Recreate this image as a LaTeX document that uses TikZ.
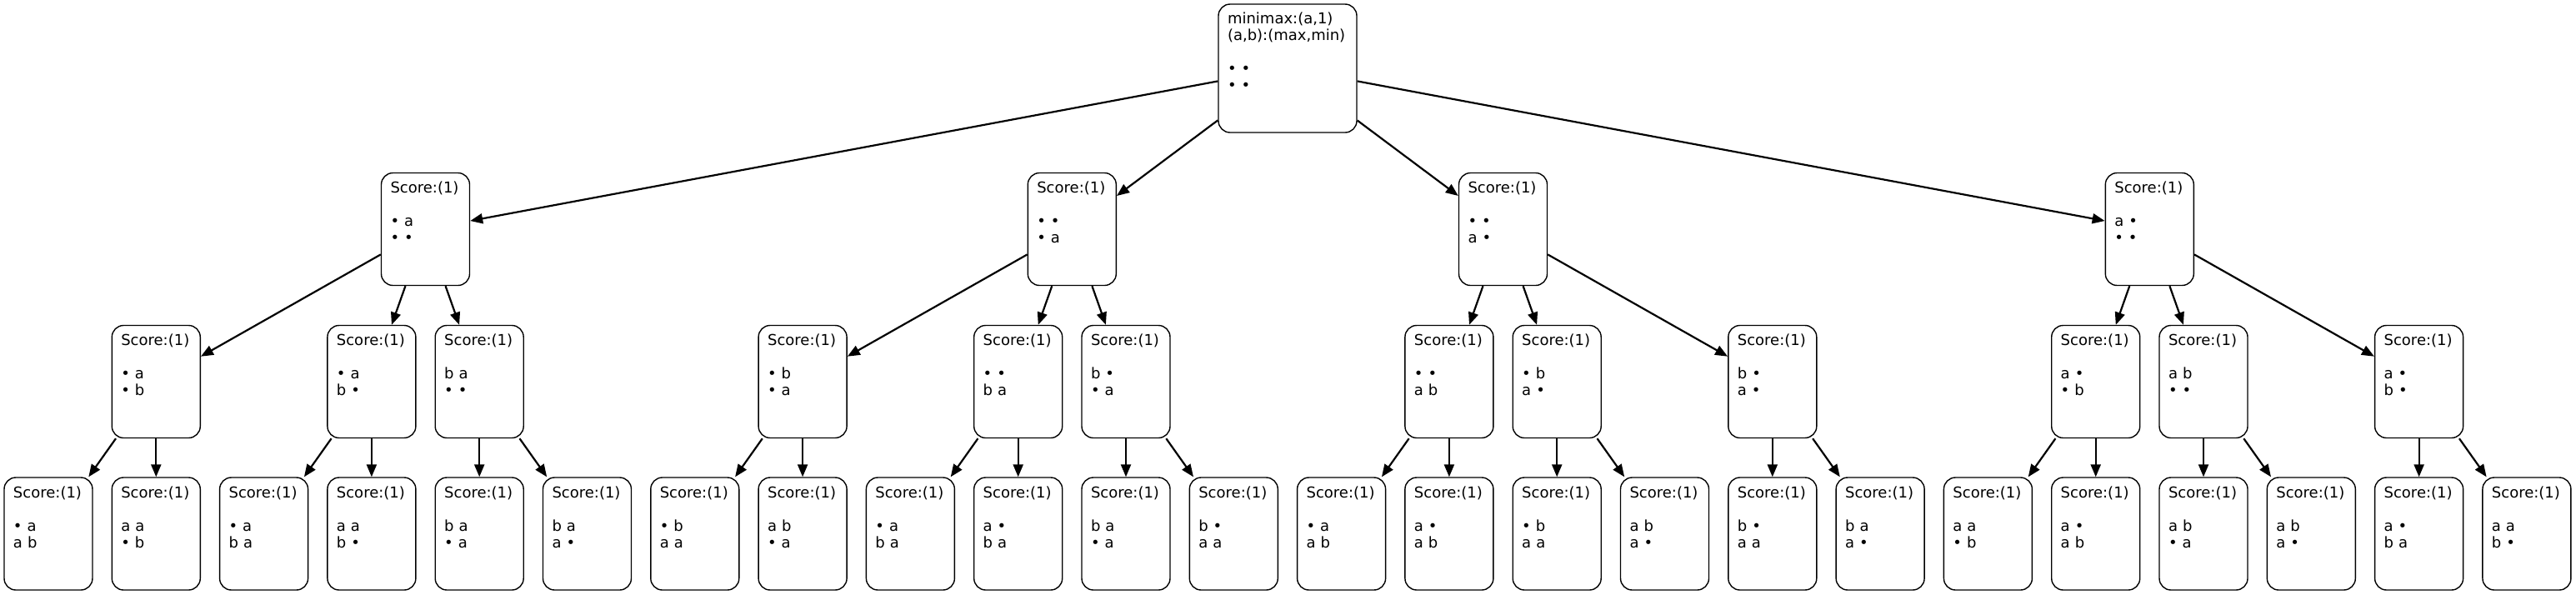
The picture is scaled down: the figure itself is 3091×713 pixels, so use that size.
\documentclass[tikz,border=0pt]{standalone}
\usepackage{fontspec}
\setmainfont{DejaVu Sans}
\usetikzlibrary{arrows.meta}
\newcommand{\board}[2]{Score:(1)\\\mbox{}\\#1\\#2\\\mbox{}\\\mbox{}}

\begin{document}
\begin{tikzpicture}[x=1pt,y=1pt,->,>={Triangle[length=15pt,width=12pt]},line width=2.2pt,
    font=\fontsize{18}{20}\selectfont,
    state/.style={draw,line width=1.4pt,rounded corners=14pt,align=left,text width=84pt,
        inner xsep=11pt,inner ysep=6pt,minimum height=135pt}]
                    \path[use as bounding box] (0,0) rectangle (3091,-713);
                    % root
                    \node[state,text width=144pt,minimum height=154pt] (0) at (1545,-82)
                        {minimax:(a,1)\\(a,b):(max,min)\\\mbox{}\\• •\\• •\\\mbox{}\\\mbox{}};
                    % max moves
                    \node[state] (1) at (510.5,-275) {\board{• a}{• •}};
                    \node[state] (2) at (1286.3,-275) {\board{• •}{• a}};
                    \node[state] (3) at (1803.5,-275) {\board{• •}{a •}};
                    \node[state] (4) at (2579.3,-275) {\board{a •}{• •}};
                    % min moves
                    \node[state] (5) at (187.3,-458) {\board{• a}{• b}};
                    \node[state] (6) at (445.9,-458) {\board{• a}{b •}};
                    \node[state] (7) at (575.2,-458) {\board{b a}{• •}};
                    \node[state] (8) at (963.1,-458) {\board{• b}{• a}};
                    \node[state] (9) at (1221.7,-458) {\board{• •}{b a}};
                    \node[state] (10) at (1351,-458) {\board{b •}{• a}};
                    \node[state] (11) at (1738.9,-458) {\board{• •}{a b}};
                    \node[state] (12) at (1868.2,-458) {\board{• b}{a •}};
                    \node[state] (13) at (2126.8,-458) {\board{b •}{a •}};
                    \node[state] (14) at (2514.7,-458) {\board{a •}{• b}};
                    \node[state] (15) at (2644,-458) {\board{a b}{• •}};
                    \node[state] (16) at (2902.6,-458) {\board{a •}{b •}};
                    % leaves
                    \node[state] (17) at (58,-640.5) {\board{• a}{a b}};
                    \node[state] (18) at (187.3,-640.5) {\board{a a}{• b}};
                    \node[state] (19) at (316.6,-640.5) {\board{• a}{b a}};
                    \node[state] (20) at (445.9,-640.5) {\board{a a}{b •}};
                    \node[state] (21) at (575.2,-640.5) {\board{b a}{• a}};
                    \node[state] (22) at (704.5,-640.5) {\board{b a}{a •}};
                    \node[state] (23) at (833.8,-640.5) {\board{• b}{a a}};
                    \node[state] (24) at (963.1,-640.5) {\board{a b}{• a}};
                    \node[state] (25) at (1092.4,-640.5) {\board{• a}{b a}};
                    \node[state] (26) at (1221.7,-640.5) {\board{a •}{b a}};
                    \node[state] (27) at (1351,-640.5) {\board{b a}{• a}};
                    \node[state] (28) at (1480.3,-640.5) {\board{b •}{a a}};
                    \node[state] (29) at (1609.6,-640.5) {\board{• a}{a b}};
                    \node[state] (30) at (1738.9,-640.5) {\board{a •}{a b}};
                    \node[state] (31) at (1868.2,-640.5) {\board{• b}{a a}};
                    \node[state] (32) at (1997.5,-640.5) {\board{a b}{a •}};
                    \node[state] (33) at (2126.8,-640.5) {\board{b •}{a a}};
                    \node[state] (34) at (2256.1,-640.5) {\board{b a}{a •}};
                    \node[state] (35) at (2385.4,-640.5) {\board{a a}{• b}};
                    \node[state] (36) at (2514.7,-640.5) {\board{a •}{a b}};
                    \node[state] (37) at (2644,-640.5) {\board{a b}{• a}};
                    \node[state] (38) at (2773.3,-640.5) {\board{a b}{a •}};
                    \node[state] (39) at (2902.6,-640.5) {\board{a •}{b a}};
                    \node[state] (40) at (3031.9,-640.5) {\board{a a}{b •}};
                    \path
                    (0) edge (1) edge (2) edge (3) edge (4)
                    (1) edge (5) edge (6) edge (7)
                    (2) edge (8) edge (9) edge (10)
                    (3) edge (11) edge (12) edge (13)
                    (4) edge (14) edge (15) edge (16)
                    (5) edge (17) edge (18)
                    (6) edge (19) edge (20)
                    (7) edge (21) edge (22)
                    (8) edge (23) edge (24)
                    (9) edge (25) edge (26)
                    (10) edge (27) edge (28)
                    (11) edge (29) edge (30)
                    (12) edge (31) edge (32)
                    (13) edge (33) edge (34)
                    (14) edge (35) edge (36)
                    (15) edge (37) edge (38)
                    (16) edge (39) edge (40)
                    ;
                \end{tikzpicture}
\end{document}
